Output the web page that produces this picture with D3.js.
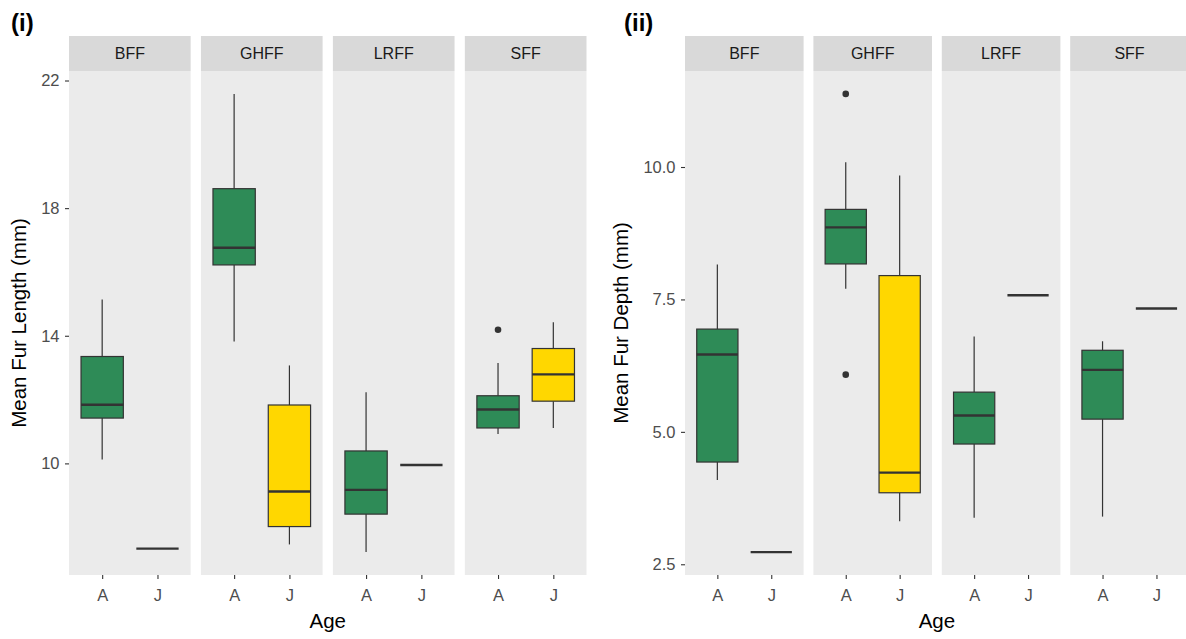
<!DOCTYPE html>
<html>
<head>
<meta charset="utf-8">
<script src="https://cdn.jsdelivr.net/npm/d3@7"></script>
<style>
  body { margin: 0; background: #ffffff; }
  svg { display: block; font-family: "Liberation Sans", Arial, sans-serif; }
</style>
</head>
<body>
<svg id="chart" width="1186" height="639"></svg>
<script>
// Facets (sites) and the age classes plotted inside each facet
const sites = ["BFF", "GHFF", "LRFF", "SFF"];
const ages = ["A", "J"];
const ageColours = ["#2E8B57", "#FFD700"];

// Box summaries: [site, age, lower whisker, Q1, median, Q3, upper whisker]
const furLength = [
  ["BFF",  "A", 10.12, 11.42, 11.84, 13.35, 15.14],
  ["BFF",  "J",  7.33,  7.33,  7.33,  7.33,  7.33],
  ["GHFF", "A", 13.82, 16.22, 16.76, 18.61, 21.58],
  ["GHFF", "J",  7.46,  8.02,  9.12, 11.83, 13.07],
  ["LRFF", "A",  7.22,  8.41,  9.17, 10.39, 12.23],
  ["LRFF", "J",  9.95,  9.95,  9.95,  9.95,  9.95],
  ["SFF",  "A", 10.92, 11.11, 11.69, 12.12, 13.15],
  ["SFF",  "J", 11.11, 11.95, 12.79, 13.60, 14.42]
];
const furLengthOutliers = [["SFF", "A", 14.19]];
const furLengthTicks = [10, 14, 18, 22];

const furDepth = [
  ["BFF",  "A", 4.09, 4.43, 6.46, 6.94, 8.16],
  ["BFF",  "J", 2.73, 2.73, 2.73, 2.73, 2.73],
  ["GHFF", "A", 7.70, 8.17, 8.86, 9.20, 10.09],
  ["GHFF", "J", 3.31, 3.85, 4.23, 7.95, 9.84],
  ["LRFF", "A", 3.38, 4.77, 5.31, 5.75, 6.80],
  ["LRFF", "J", 7.58, 7.58, 7.58, 7.58, 7.58],
  ["SFF",  "A", 3.40, 5.24, 6.17, 6.54, 6.71],
  ["SFF",  "J", 7.33, 7.33, 7.33, 7.33, 7.33]
];
const furDepthOutliers = [["GHFF", "A", 11.38], ["GHFF", "A", 6.08]];
const furDepthTicks = [2.5, 5.0, 7.5, 10.0];

const svg = d3.select("#chart");
const panelTop = 71, panelBottom = 575, stripTop = 36;
const ink = "#333333";
const colour = d3.scaleOrdinal(ages, ageColours);

function drawChart(cfg) {
  const values = cfg.boxes.flatMap(b => b.slice(2)).concat(cfg.outliers.map(o => o[2]));
  const [lo, hi] = d3.extent(values);
  const span = hi - lo;
  const y = d3.scaleLinear()
    .domain([lo - 0.05 * span, hi + 0.05 * span])
    .range([panelBottom, panelTop]);

  const fx = d3.scaleBand().domain(sites).range([cfg.x0, cfg.x1]).paddingInner(cfg.pad);
  const g = svg.append("g");

  sites.forEach(site => {
    const px = fx(site), w = fx.bandwidth();
    const xs = d3.scalePoint().domain(ages).range([px, px + w]).padding(0.6);
    const boxW = xs.step() * 0.765;
    const pg = g.append("g");

    pg.append("rect")
      .attr("x", px).attr("y", panelTop).attr("width", w).attr("height", panelBottom - panelTop)
      .attr("fill", "#EBEBEB");
    pg.append("rect")
      .attr("x", px).attr("y", stripTop).attr("width", w).attr("height", panelTop - stripTop)
      .attr("fill", "#D9D9D9");
    pg.append("text")
      .attr("x", px + w / 2).attr("y", (stripTop + panelTop) / 2)
      .attr("dy", "0.36em").attr("text-anchor", "middle")
      .attr("font-size", 16).attr("fill", "#1A1A1A")
      .text(site);

    cfg.boxes.filter(b => b[0] === site).forEach(b => {
      const [, age, wLo, q1, med, q3, wHi] = b;
      const cx = xs(age);
      // whiskers
      pg.append("line")
        .attr("x1", cx).attr("x2", cx).attr("y1", y(wHi)).attr("y2", y(q3))
        .attr("stroke", ink).attr("stroke-width", 1.2);
      pg.append("line")
        .attr("x1", cx).attr("x2", cx).attr("y1", y(q1)).attr("y2", y(wLo))
        .attr("stroke", ink).attr("stroke-width", 1.2);
      // box
      pg.append("rect")
        .attr("x", cx - boxW / 2).attr("y", y(q3))
        .attr("width", boxW).attr("height", Math.max(0, y(q1) - y(q3)))
        .attr("fill", colour(age)).attr("stroke", ink).attr("stroke-width", 1.2);
      // median
      pg.append("line")
        .attr("x1", cx - boxW / 2).attr("x2", cx + boxW / 2)
        .attr("y1", y(med)).attr("y2", y(med))
        .attr("stroke", ink).attr("stroke-width", 2.4);
    });

    cfg.outliers.filter(o => o[0] === site).forEach(o => {
      pg.append("circle")
        .attr("cx", xs(o[1])).attr("cy", y(o[2])).attr("r", 3.3)
        .attr("fill", ink);
    });

    const xAxis = pg.append("g")
      .attr("transform", `translate(0,${panelBottom})`)
      .call(d3.axisBottom(xs).tickSize(4).tickPadding(10.5));
    xAxis.select(".domain").remove();
    xAxis.selectAll("line").attr("stroke", ink).attr("stroke-width", 1.1);
    xAxis.selectAll("text")
      .attr("font-size", 16.5).attr("fill", "#4D4D4D")
      .attr("font-family", "Liberation Sans, Arial, sans-serif");
  });

  const yAxis = g.append("g")
    .attr("transform", `translate(${cfg.x0},0)`)
    .call(d3.axisLeft(y).tickValues(cfg.ticks).tickFormat(cfg.fmt).tickSize(4).tickPadding(5.5));
  yAxis.select(".domain").remove();
  yAxis.selectAll("line").attr("stroke", ink).attr("stroke-width", 1.1);
  yAxis.selectAll("text")
    .attr("font-size", 16.5).attr("fill", "#4D4D4D")
    .attr("font-family", "Liberation Sans, Arial, sans-serif");

  // axis titles
  g.append("text")
    .attr("transform", `translate(${cfg.titleX},${(panelTop + panelBottom) / 2}) rotate(-90)`)
    .attr("text-anchor", "middle").attr("font-size", 20.5).attr("fill", "#000")
    .text(cfg.yTitle);
  g.append("text")
    .attr("x", (cfg.x0 + cfg.x1) / 2).attr("y", 628)
    .attr("text-anchor", "middle").attr("font-size", 20.5).attr("fill", "#000")
    .text("Age");

  // panel tag
  g.append("text")
    .attr("x", cfg.tagX).attr("y", 31)
    .attr("font-size", 24).attr("font-weight", "bold").attr("fill", "#000")
    .text(cfg.tag);
}

drawChart({
  boxes: furLength, outliers: furLengthOutliers, ticks: furLengthTicks,
  fmt: d3.format("d"), x0: 69, x1: 586.5, pad: 0.078,
  titleX: 26, yTitle: "Mean Fur Length (mm)", tag: "(i)", tagX: 11
});

drawChart({
  boxes: furDepth, outliers: furDepthOutliers, ticks: furDepthTicks,
  fmt: d3.format(".1f"), x0: 685, x1: 1188.8, pad: 0.0763,
  titleX: 628, yTitle: "Mean Fur Depth (mm)", tag: "(ii)", tagX: 624
});
</script>
</body>
</html>
